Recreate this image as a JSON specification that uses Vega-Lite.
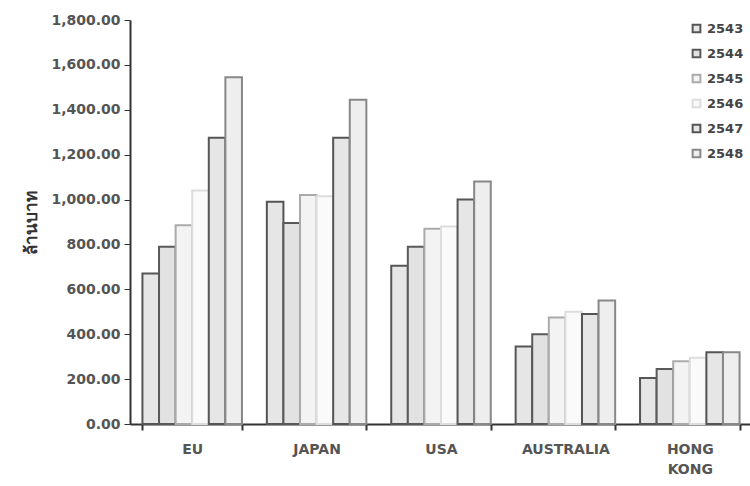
{
  "$schema": "https://vega.github.io/schema/vega-lite/v6.json",
  "autosize": "none",
  "width": 622,
  "height": 404,
  "padding": {"left": 130, "top": 20, "right": 0, "bottom": 62},
  "background": "white",
  "data": {
    "values": [
      {"region": "EU", "year": "2543", "value": 670},
      {"region": "EU", "year": "2544", "value": 790},
      {"region": "EU", "year": "2545", "value": 885},
      {"region": "EU", "year": "2546", "value": 1040},
      {"region": "EU", "year": "2547", "value": 1275},
      {"region": "EU", "year": "2548", "value": 1545},
      {"region": "JAPAN", "year": "2543", "value": 990},
      {"region": "JAPAN", "year": "2544", "value": 895},
      {"region": "JAPAN", "year": "2545", "value": 1020},
      {"region": "JAPAN", "year": "2546", "value": 1015},
      {"region": "JAPAN", "year": "2547", "value": 1275},
      {"region": "JAPAN", "year": "2548", "value": 1445},
      {"region": "USA", "year": "2543", "value": 705},
      {"region": "USA", "year": "2544", "value": 790},
      {"region": "USA", "year": "2545", "value": 870},
      {"region": "USA", "year": "2546", "value": 880},
      {"region": "USA", "year": "2547", "value": 1000},
      {"region": "USA", "year": "2548", "value": 1080},
      {"region": "AUSTRALIA", "year": "2543", "value": 345},
      {"region": "AUSTRALIA", "year": "2544", "value": 400},
      {"region": "AUSTRALIA", "year": "2545", "value": 475},
      {"region": "AUSTRALIA", "year": "2546", "value": 500},
      {"region": "AUSTRALIA", "year": "2547", "value": 490},
      {"region": "AUSTRALIA", "year": "2548", "value": 550},
      {"region": "HONG KONG", "year": "2543", "value": 205},
      {"region": "HONG KONG", "year": "2544", "value": 245},
      {"region": "HONG KONG", "year": "2545", "value": 280},
      {"region": "HONG KONG", "year": "2546", "value": 295},
      {"region": "HONG KONG", "year": "2547", "value": 320},
      {"region": "HONG KONG", "year": "2548", "value": 320}
    ]
  },
  "mark": {"type": "bar", "strokeWidth": 2},
  "encoding": {
    "x": {
      "field": "region",
      "type": "nominal",
      "sort": ["EU", "JAPAN", "USA", "AUSTRALIA", "HONG KONG"],
      "scale": {"paddingInner": 0.2, "paddingOuter": 0.1},
      "axis": {
        "title": null,
        "labelAngle": 0,
        "labelFont": "DejaVu Sans",
        "labelFontSize": 14,
        "labelFontWeight": "bold",
        "labelColor": "#555",
        "labelPadding": 12,
        "labelExpr": "datum.value == 'HONG KONG' ? ['HONG', 'KONG'] : datum.value",
        "labelLineHeight": 20,
        "domainColor": "#333",
        "domainWidth": 2,
        "tickColor": "#333",
        "tickWidth": 2,
        "tickSize": 6,
        "tickBand": "extent"
      }
    },
    "xOffset": {"field": "year", "type": "nominal", "scale": {"paddingInner": 0}},
    "y": {
      "field": "value",
      "type": "quantitative",
      "scale": {"domain": [0, 1800]},
      "axis": {
        "title": "ล้านบาท",
        "titleFontSize": 17,
        "titleFontWeight": "bold",
        "titleColor": "#333",
        "titlePadding": 10,
        "values": [0, 200, 400, 600, 800, 1000, 1200, 1400, 1600, 1800],
        "format": ",.2f",
        "labelFont": "DejaVu Sans",
        "labelFontSize": 14,
        "labelFontWeight": "bold",
        "labelColor": "#555",
        "labelPadding": 4,
        "grid": false,
        "domainColor": "#333",
        "domainWidth": 2,
        "tickColor": "#333",
        "tickSize": 6
      }
    },
    "fill": {
      "field": "year",
      "type": "nominal",
      "scale": {"range": ["#e6e6e6", "#e2e2e2", "#f3f3f3", "#fafafa", "#e6e6e6", "#eeeeee"]},
      "legend": {
        "title": null,
        "orient": "none",
        "legendX": 560,
        "legendY": 2,
        "symbolType": "square",
        "symbolSize": 60,
        "symbolStrokeWidth": 2,
        "labelFont": "DejaVu Sans",
        "labelFontSize": 13,
        "labelFontWeight": "bold",
        "labelColor": "#444",
        "rowPadding": 8
      }
    },
    "stroke": {
      "field": "year",
      "type": "nominal",
      "scale": {"range": ["#555555", "#5a5a5a", "#aaaaaa", "#dddddd", "#555555", "#888888"]},
      "legend": {
        "title": null,
        "orient": "none",
        "legendX": 560,
        "legendY": 2,
        "symbolType": "square",
        "symbolSize": 60,
        "symbolStrokeWidth": 2,
        "labelFont": "DejaVu Sans",
        "labelFontSize": 13,
        "labelFontWeight": "bold",
        "labelColor": "#444",
        "rowPadding": 8
      }
    }
  },
  "config": {"view": {"stroke": null}}
}
